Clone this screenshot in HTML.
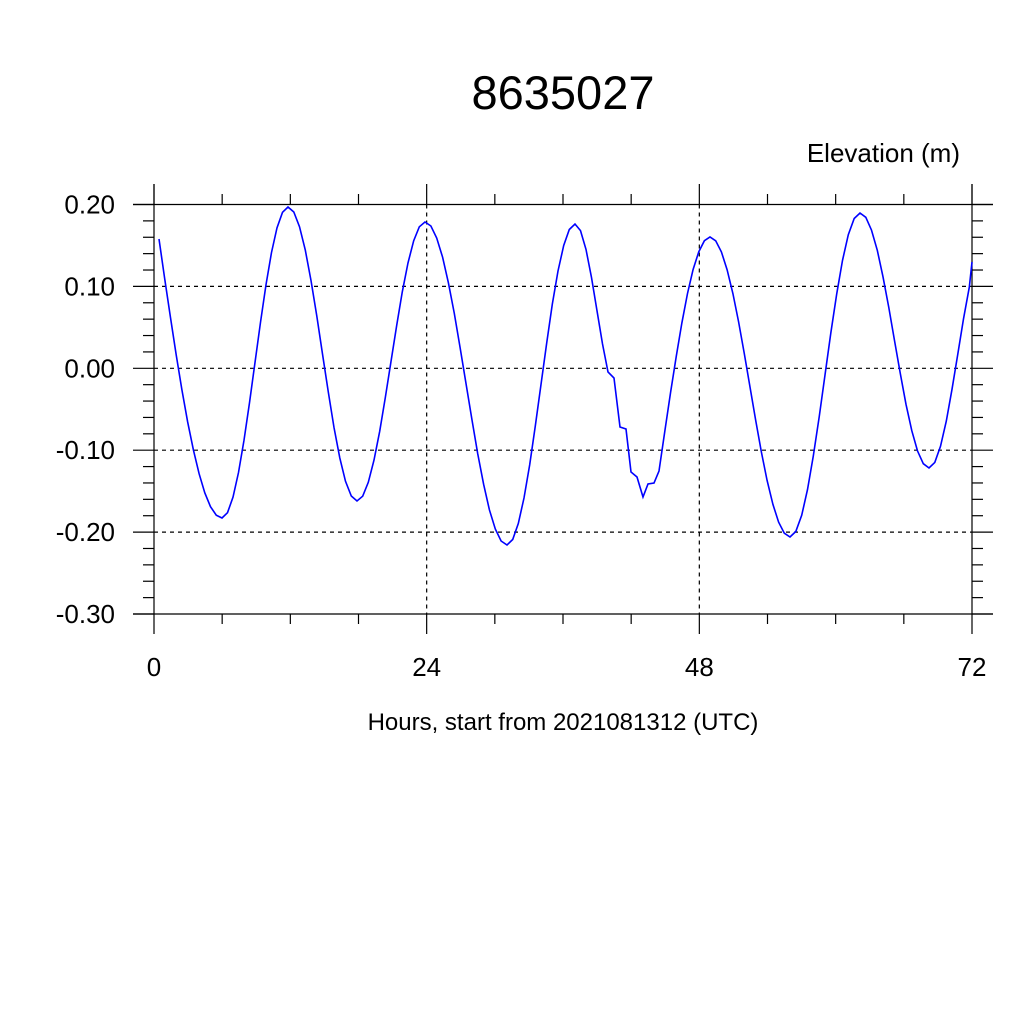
<!DOCTYPE html>
<html><head><meta charset="utf-8"><style>body{margin:0;background:#fff}svg{display:block}</style></head><body>
<svg id="s" width="1024" height="1024" xmlns="http://www.w3.org/2000/svg" font-family="Liberation Sans, sans-serif">
<rect width="1024" height="1024" fill="#fff"/>
<text x="563" y="109" font-size="47" text-anchor="middle">8635027</text>
<text x="960" y="162" font-size="26" text-anchor="end">Elevation (m)</text>
<text x="563" y="730" font-size="24" text-anchor="middle">Hours, start from 2021081312 (UTC)</text>
<g id="g" stroke="#000" stroke-width="1.2" fill="none"></g>
<g id="lab" font-size="26" fill="#000"></g>
<path id="p" fill="none" stroke="#0000ff" stroke-width="1.6"/>
</svg>
<script>
var g=document.getElementById('g'),lab=document.getElementById('lab'),NS='http://www.w3.org/2000/svg';
function L(x1,y1,x2,y2,d){var e=document.createElementNS(NS,'line');e.setAttribute('x1',x1);e.setAttribute('y1',y1);e.setAttribute('x2',x2);e.setAttribute('y2',y2);if(d)e.setAttribute('stroke-dasharray','4,4');g.appendChild(e);}
function T(x,y,t,a){var e=document.createElementNS(NS,'text');e.setAttribute('x',x);e.setAttribute('y',y);e.setAttribute('text-anchor',a);e.textContent=t;lab.appendChild(e);}
var X0=154,X1=972,Y0=204.5,Y1=614;
function yv(v){return Y0+(0.2-v)/0.5*(Y1-Y0);}
function xv(h){return X0+h/72*(X1-X0);}
L(X0,184,X0,Y1);L(X1,184,X1,Y1);L(133,Y0,993,Y0);L(133,Y1,993,Y1);
for(var i=0;i<=25;i++){var v=0.2-i*0.02,y=yv(v),maj=i%5==0;
 L(maj?133:143,y,X0,y);L(X1,y,maj?993:983,y);
 if(maj){if(i>0&&i<25)L(X0,y,X1,y,true);T(115,y+9,v.toFixed(2).replace('-0.00','0.00'),'end');}}
for(var h=0;h<=72;h+=6){var x=xv(h),maj=h%24==0;
 L(x,maj?184:194,x,Y0);L(x,Y1,x,maj?634:624);
 if(maj){if(h>0&&h<72)L(x,Y0,x,Y1,true);T(x,676,''+h,'middle');}}
var ex=[[159,239],[222,518],[288,207],[357,501],[425,222],[507,545],[575,224],[608,372]];
var pts=[];
for(var k=0;k<ex.length-1;k++){var a=ex[k],b=ex[k+1];var n=Math.max(2,Math.round((b[0]-a[0])/5.7));
 for(var j=(k==0?0:1);j<=n;j++){var t=j/n;var x=a[0]+(b[0]-a[0])*t;var f=(1-Math.cos(Math.PI*t))/2;
 if(k==0)f=Math.sin(Math.PI*t/2);
 if(k==ex.length-2)f=(1-Math.cos(Math.PI*t*0.75))/(1-Math.cos(Math.PI*0.75));
 pts.push([x,a[1]+(b[1]-a[1])*f]);}}
pts.push([614,378],[620,427],[626,429],[631,472],[637,477],[643,497],[648,484],[654,483],[659,471],[665,430]);
var ex2=[[665,430],[710,237],[790,537],[860,213],[929,468],[975,262]];
for(var k=0;k<ex2.length-1;k++){var a=ex2[k],b=ex2[k+1];var n=Math.max(2,Math.round((b[0]-a[0])/5.7));
 for(var j=1;j<=n;j++){var t=j/n;var x=a[0]+(b[0]-a[0])*t;var f;
 if(k==0)f=Math.sin(Math.PI*t/2);else if(k==ex2.length-2)f=(1-Math.cos(Math.PI*t*0.8))/(1-Math.cos(Math.PI*0.8));else f=(1-Math.cos(Math.PI*t))/2;
 if(x>972){x=972;}
 pts.push([x,a[1]+(b[1]-a[1])*f]);if(x>=972)break;}}
document.getElementById('p').setAttribute('d','M'+pts.map(function(p){return p[0].toFixed(1)+','+p[1].toFixed(1)}).join('L'));
</script>
</body></html>
